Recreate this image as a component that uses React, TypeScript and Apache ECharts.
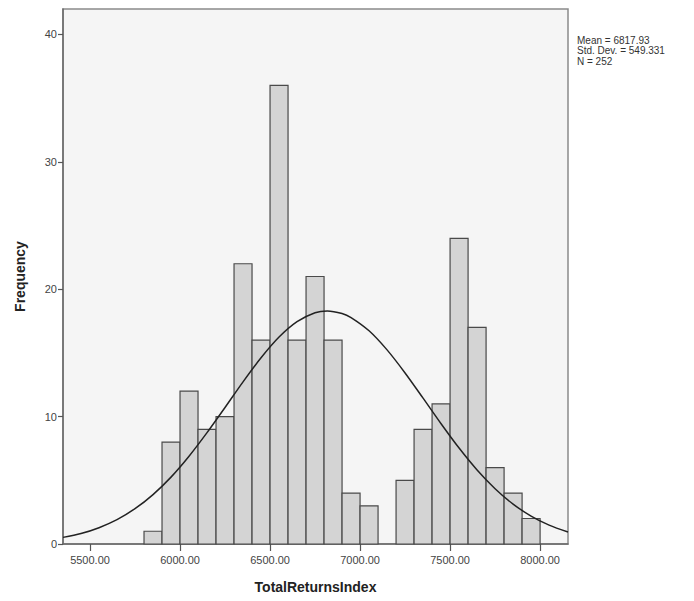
import React, { useEffect, useRef } from "react";
import * as echarts from "echarts";

// Histogram bins (lower edge, width 100) and frequencies
const binLower = [5800, 5900, 6000, 6100, 6200, 6300, 6400, 6500, 6600, 6700, 6800, 6900, 7000, 7100, 7200, 7300, 7400, 7500, 7600, 7700, 7800, 7900];
const counts = [1, 8, 12, 9, 10, 22, 16, 36, 16, 21, 16, 4, 3, 0, 5, 9, 11, 24, 17, 6, 4, 2];
const binWidth = 100;

// Normal curve
const curveX = [5350, 5450, 5550, 5650, 5750, 5850, 5950, 6050, 6150, 6250, 6350, 6450, 6550, 6650, 6750, 6818, 6900, 6950, 7050, 7150, 7250, 7350, 7450, 7550, 7650, 7750, 7850, 7950, 8050, 8155];
const curveY = [0.52, 0.82, 1.28, 1.91, 2.77, 3.88, 5.25, 6.89, 8.74, 10.72, 12.73, 14.62, 16.25, 17.46, 18.16, 18.3, 18.1, 17.78, 16.74, 15.24, 13.43, 11.45, 9.44, 7.53, 5.81, 4.34, 3.13, 2.19, 1.48, 0.94];

const xTicks = [5500, 6000, 6500, 7000, 7500, 8000];
const yTicks = [0, 10, 20, 30, 40];
const statsLines = ["Mean = 6817.93", "Std. Dev. = 549.331", "N = 252"];

const FONT = "'Liberation Sans', Arial, sans-serif";

export default function App() {
  const ref = useRef<HTMLDivElement>(null);

  useEffect(() => {
    document.body.style.margin = "0";
    if (!ref.current) return;
    const chart = echarts.init(ref.current, undefined, { renderer: "svg" });
    const barData = binLower.map((lo, i) => [lo, lo + binWidth, counts[i]]);
    const option: any = {
      animation: false,
      backgroundColor: "#ffffff",
      textStyle: { fontFamily: FONT },
      grid: {
        left: 63,
        right: 126,
        top: 9,
        bottom: 57,
        show: true,
        backgroundColor: "#f5f5f5",
        borderColor: "#8a8a8a",
        borderWidth: 1.5,
      },
      xAxis: {
        type: "value",
        min: 5350,
        max: 8155,
        splitLine: { show: false },
        axisLine: { show: true, onZero: false, lineStyle: { color: "#6a6a6a", width: 1.5 } },
        axisTick: { show: true, length: 7, customValues: xTicks, lineStyle: { color: "#555", width: 1.2 } },
        axisLabel: {
          customValues: xTicks,
          formatter: (v: number) => v.toFixed(2),
          fontSize: 11,
          color: "#444",
          margin: 10,
          fontFamily: FONT,
        },
        name: "TotalReturnsIndex",
        nameLocation: "middle",
        nameGap: 36,
        nameTextStyle: { fontSize: 14, fontWeight: "bold", color: "#222", fontFamily: FONT },
      },
      yAxis: {
        type: "value",
        min: 0,
        max: 42,
        splitLine: { show: false },
        axisLine: { show: true, onZero: false, lineStyle: { color: "#6a6a6a", width: 1.5 } },
        axisTick: { show: true, length: 5, customValues: yTicks, lineStyle: { color: "#555", width: 1.2 } },
        axisLabel: {
          customValues: yTicks,
          fontSize: 11,
          color: "#444",
          margin: 6,
          fontFamily: FONT,
        },
        name: "Frequency",
        nameLocation: "middle",
        nameGap: 36,
        nameTextStyle: { fontSize: 14, fontWeight: "bold", color: "#222", fontFamily: FONT },
      },
      series: [
        {
          type: "custom",
          data: barData,
          encode: { x: [0, 1], y: 2 },
          renderItem: (params: any, api: any) => {
            const x0 = api.value(0);
            const x1 = api.value(1);
            const y = api.value(2);
            if (!y) return null;
            const p0 = api.coord([x0, y]);
            const p1 = api.coord([x1, 0]);
            return {
              type: "rect",
              shape: { x: p0[0], y: p0[1], width: p1[0] - p0[0], height: p1[1] - p0[1] },
              style: { fill: "#d4d4d4", stroke: "#4a4a4a", lineWidth: 1.2 },
            };
          },
          z: 2,
        },
        {
          type: "line",
          data: curveX.map((x, i) => [x, curveY[i]]),
          smooth: 0.3,
          symbol: "none",
          lineStyle: { color: "#222", width: 1.5 },
          z: 5,
        },
      ],
      graphic: statsLines.map((t, i) => ({
        type: "text",
        left: 577,
        top: 35 + i * 10.5,
        style: { text: t, fontSize: 10, fill: "#333", fontFamily: FONT },
      })),
    };
    chart.setOption(option);
    return () => chart.dispose();
  }, []);

  return <div ref={ref} style={{ width: 694, height: 601 }} />;
}
